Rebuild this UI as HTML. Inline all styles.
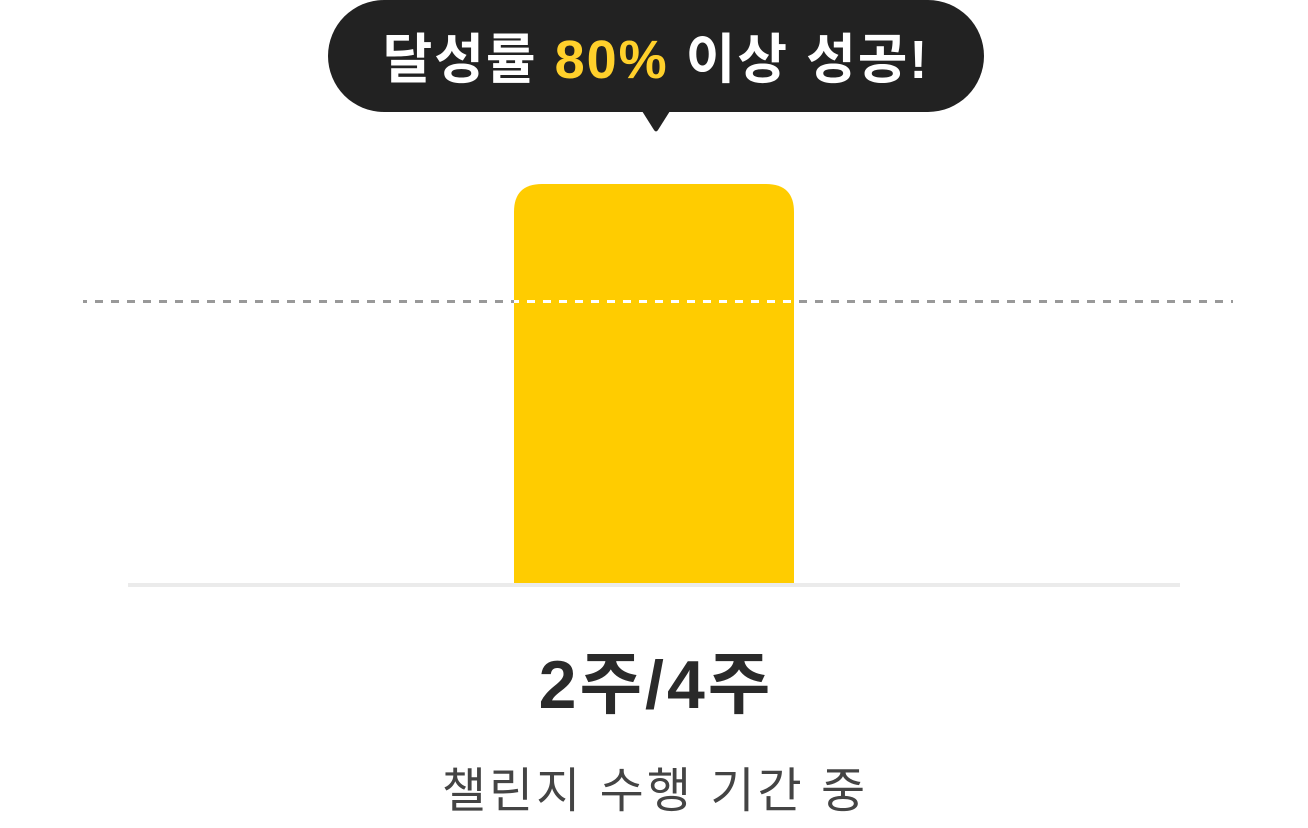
<!DOCTYPE html>
<html><head><meta charset="utf-8">
<style>
html,body{margin:0;padding:0;background:#fff;width:1308px;height:828px;overflow:hidden;}
svg{display:block}
</style></head>
<body>
<svg id="chart" width="1308" height="828">
  <g>
    <rect x="328" y="0" width="656" height="112" rx="56" fill="#222222"/>
    <path d="M642 111 L670 111 L658 130 Q656 133 654 130 Z" fill="#222222"/>
    <text x="656" y="78" text-anchor="middle" font-family="'Liberation Sans','Noto Sans CJK KR',sans-serif" font-size="54" font-weight="bold" letter-spacing="2" fill="#ffffff">달성률 <tspan fill="#ffd02b">80%</tspan> 이상 성공!</text>
  </g>
  <g id="bars"></g>
  <line id="threshold" x1="83" x2="1233" stroke="#999999" stroke-width="3" stroke-dasharray="8 8" stroke-dashoffset="4"/>
  <line id="threshold-in" stroke="#ffffff" stroke-width="3" stroke-dasharray="8 8" stroke-dashoffset="4"/>
  <rect x="128" y="583" width="1052" height="4" fill="#ebebeb"/>
  <text x="656" y="708" text-anchor="middle" font-family="'Liberation Sans','Noto Sans CJK KR',sans-serif" font-size="68" font-weight="bold" letter-spacing="3" fill="#2a2a2a">2주/4주</text>
  <text x="655" y="807" text-anchor="middle" font-family="'Liberation Sans','Noto Sans CJK KR',sans-serif" font-size="48" letter-spacing="3" fill="#444444">챌린지 수행 기간 중</text>
</svg>
<script>
const categories = ["2주/4주"];
const barValues = [100];
const threshold = [71];
const yMax = 100;

const baseY = 584, plotH = 400;
function y(v){ return baseY - v / yMax * plotH; }
function xCenter(i){ return 654 + i * 300; }
const barW = 280, r = 28;
const ns = "http://www.w3.org/2000/svg";
const g = document.getElementById("bars");
barValues.forEach((v, i) => {
  const x0 = xCenter(i) - barW/2, x1 = x0 + barW, yt = y(v);
  const p = document.createElementNS(ns, "path");
  p.setAttribute("d", `M${x0} ${baseY} L${x0} ${yt+r} Q${x0} ${yt} ${x0+r} ${yt} L${x1-r} ${yt} Q${x1} ${yt} ${x1} ${yt+r} L${x1} ${baseY} Z`);
  p.setAttribute("fill", "#ffcc00");
  
  
  g.appendChild(p);
  const tl = document.getElementById("threshold-in");
  tl.setAttribute("x1", x0); tl.setAttribute("x2", x1);
  tl.setAttribute("stroke-dashoffset", 4 + (x0 - 83));
});
const ty = y(threshold[0]) + 1.5;
document.getElementById("threshold").setAttribute("y1", ty);
document.getElementById("threshold").setAttribute("y2", ty);
document.getElementById("threshold-in").setAttribute("y1", ty);
document.getElementById("threshold-in").setAttribute("y2", ty);
document.getElementById("chart").appendChild(document.getElementById("threshold-in"));
</script>
</body></html>
